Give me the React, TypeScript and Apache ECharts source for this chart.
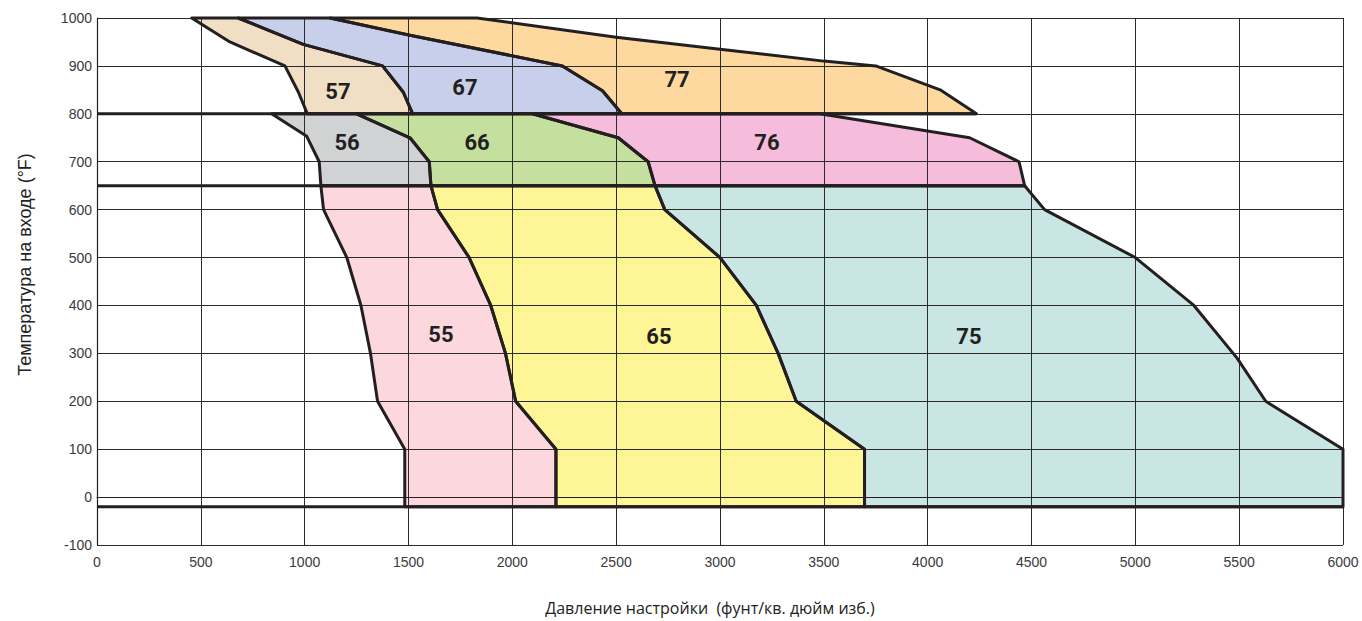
import { useEffect, useRef } from "react";
import * as echarts from "echarts";

// Boundary polylines (pressure psig, temperature °F)
const edge55Left = [[1078, 650], [1091, 600], [1203, 500], [1271, 400], [1317, 300], [1351, 200], [1482, 100], [1482, -20]];
const edge55to65 = [[1608, 650], [1640, 600], [1792, 500], [1896, 400], [1967, 300], [2016, 200], [2210, 100], [2210, -20]];
const edge65to75 = [[2687, 650], [2734, 600], [3000, 500], [3175, 400], [3280, 300], [3367, 200], [3696, 100], [3696, -20]];
const edge75Right = [[4467, 650], [4563, 600], [5000, 500], [5282, 400], [5490, 290], [5628, 200], [6000, 100], [6000, -20]];

const edge56Left = [[841, 800], [1010, 753], [1070, 700], [1078, 650]];
const edge56to66 = [[1250, 800], [1507, 750], [1600, 700], [1608, 650]];
const edge66to76 = [[2096, 800], [2510, 750], [2654, 700], [2687, 650]];
const edge76Right = [[3480, 800], [4202, 750], [4440, 700], [4467, 650]];

const edge57Left = [[456, 1000], [640, 950], [905, 900], [970, 845], [1013, 800]];
const edge57to67 = [[680, 1000], [993, 945], [1375, 900], [1475, 845], [1520, 800]];
const edge67to77 = [[1122, 1000], [1507, 964], [2241, 900], [2434, 848], [2527, 800]];
const edge77Right = [[1830, 1000], [2500, 960], [3000, 935], [3500, 910], [3750, 900], [4060, 850], [4235, 800]];

const regionNames = ["55", "65", "75", "56", "66", "76", "57", "67", "77"];
const regionColors = ["#fcd7dd", "#fef597", "#c9e6e4", "#d1d2d4", "#c5df9f", "#f5bddb", "#f0dfc4", "#c7cfeb", "#fdd99f"];
const labelPositions = [[1656, 340], [2706, 335], [4199, 335], [1204, 740], [1830, 740], [3226, 740], [1160, 846], [1772, 855], [2793, 871]];

// horizontal band limits: [temperature, right end pressure]
const bandLines = [[800, 4235], [650, 4467], [-20, 6000]];

const xTitle = "Давление настройки  (фунт/кв. дюйм изб.)";
const yTitle = "Температура на входе (°F)";

const closePoly = (a: number[][], b: number[][]) => [...a, ...b.slice().reverse()];
const polygons = [
  closePoly(edge55Left, edge55to65),
  closePoly(edge55to65, edge65to75),
  closePoly(edge65to75, edge75Right),
  closePoly(edge56Left, edge56to66),
  closePoly(edge56to66, edge66to76),
  closePoly(edge66to76, edge76Right),
  closePoly(edge57Left, edge57to67),
  closePoly(edge57to67, edge67to77),
  closePoly(edge67to77, edge77Right),
];

const INK = "#231f20";

export default function App() {
  const ref = useRef<HTMLDivElement>(null);
  useEffect(() => {
    if (!ref.current) return;
    const chart = echarts.init(ref.current, undefined, { renderer: "svg" });
    const polySeries = (fill: boolean) => ({
      type: "custom",
      coordinateSystem: "cartesian2d",
      silent: true,
      z: fill ? 1 : 4,
      data: polygons.map((_, i) => [i]),
      renderItem: (params: any, api: any) => {
        const i = params.dataIndex;
        return {
          type: "polygon",
          shape: { points: polygons[i].map((p) => api.coord(p)) },
          style: fill
            ? { fill: regionColors[i], stroke: "none" }
            : { fill: "none", stroke: INK, lineWidth: 3, lineJoin: "round" },
        };
      },
    });
    const option: any = {
      animation: false,
      grid: { left: 97, right: 19, top: 18, bottom: 75, containLabel: false },
      xAxis: {
        type: "value",
        min: 0,
        max: 6000,
        interval: 500,
        z: 3,
        name: xTitle,
        nameLocation: "middle",
        nameGap: 55,
        nameTextStyle: { fontFamily: "Open Sans", fontSize: 16, color: "#222", padding: [0, 20, 0, 0] },
        axisLine: { show: true, lineStyle: { color: INK, width: 1.2 } },
        axisTick: { show: false },
        axisLabel: {
          margin: 10,
          fontFamily: "Liberation Sans",
          fontSize: 14,
          color: "#3a3a3a",
          formatter: (v: number) => String(v),
        },
        splitLine: { show: true, lineStyle: { color: "#2b2b2b", width: 1 } },
      },
      yAxis: {
        type: "value",
        min: -100,
        max: 1000,
        interval: 100,
        z: 3,
        name: yTitle,
        nameLocation: "middle",
        nameGap: 63,
        nameTextStyle: { fontFamily: "Liberation Sans", fontSize: 18, color: "#222", padding: [0, 0, 0, 34] },
        axisLine: { show: true, lineStyle: { color: INK, width: 1.2 } },
        axisTick: { show: false },
        axisLabel: {
          margin: 5,
          fontFamily: "Liberation Sans",
          fontSize: 14,
          color: "#3a3a3a",
          formatter: (v: number) => String(v),
        },
        splitLine: { show: true, lineStyle: { color: "#2b2b2b", width: 1 } },
      },
      series: [
        polySeries(true),
        polySeries(false),
        ...bandLines.map(([t, xr]) => ({
          type: "line",
          silent: true,
          z: 4,
          symbol: "none",
          data: [[0, t], [xr, t]],
          lineStyle: { color: INK, width: 3 },
        })),
        {
          type: "custom",
          coordinateSystem: "cartesian2d",
          silent: true,
          z: 5,
          data: labelPositions.map((p, i) => [p[0], p[1], i]),
          renderItem: (params: any, api: any) => {
            const i = params.dataIndex;
            const pt = api.coord(labelPositions[i]);
            return {
              type: "text",
              x: pt[0],
              y: pt[1],
              style: {
                text: regionNames[i],
                fontFamily: "Roboto",
                fontWeight: "bold",
                fontSize: 22,
                fill: INK,
                align: "center",
                verticalAlign: "middle",
              },
            };
          },
        },
      ],
    };
    chart.setOption(option);
    return () => chart.dispose();
  }, []);
  return <div ref={ref} style={{ position: "fixed", left: 0, top: 0, width: 1362, height: 621, background: "#fff" }} />;
}
